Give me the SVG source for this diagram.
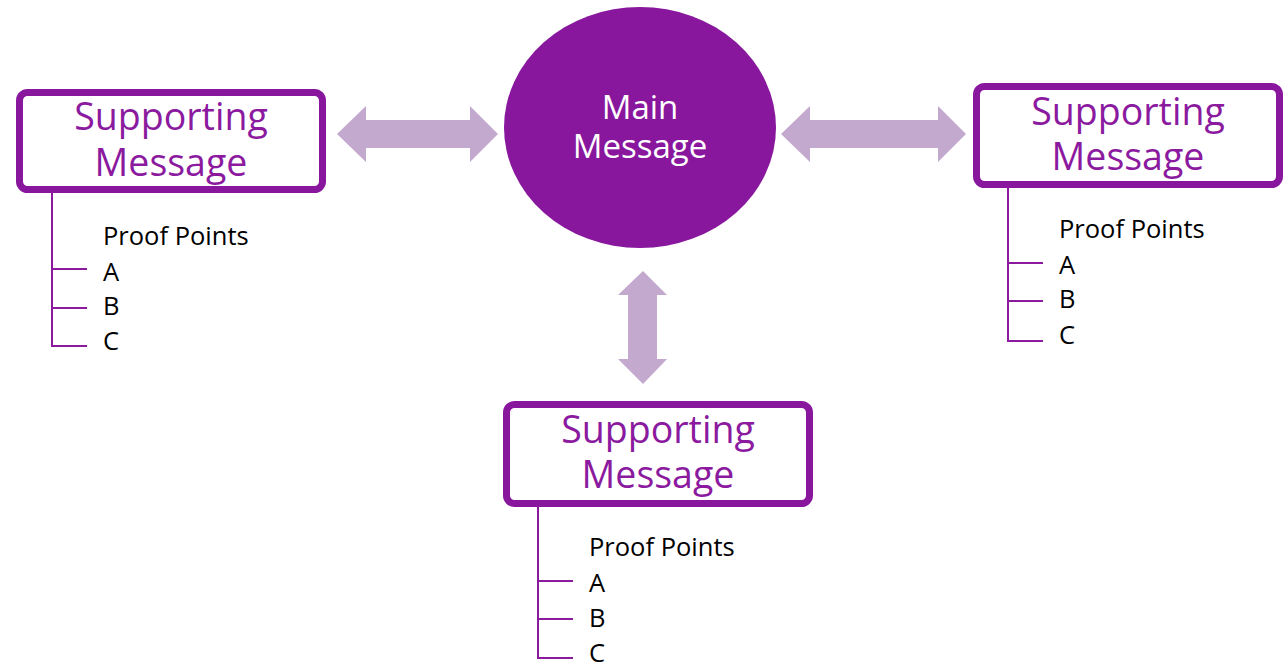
<svg xmlns="http://www.w3.org/2000/svg" width="1286" height="668" viewBox="0 0 1286 668">
  <style>
    .box { fill: #ffffff; stroke: #88179e; stroke-width: 7; }
    .box-label { font-family: "Open Sans", "Noto Sans", sans-serif; font-size: 37.5px; fill: #8b1a9f; text-anchor: middle; }
    .main-label { font-family: "Open Sans", "Noto Sans", sans-serif; font-size: 33px; fill: #ffffff; text-anchor: middle; }
    .tree { fill: none; stroke: #8b1a9f; stroke-width: 2; }
    .point { font-family: "Open Sans", "Noto Sans", sans-serif; font-size: 25.5px; fill: #000000; }
    .link { fill: #c4a9cf; }
  </style>

  <!-- double-headed connectors -->
  <g id="connectors">
    <polygon class="link" points="337,134 366,106 366,120 470,120 470,106 498,134 470,162 470,148 366,148 366,162"/>
    <polygon class="link" points="781,134 810,106 810,120 938,120 938,106 966,134 938,162 938,148 810,148 810,162"/>
    <polygon class="link" points="643,271 667,295 657,295 657,359 667,359 643,384 618,359 628,359 628,295 618,295"/>
  </g>

  <!-- central message -->
  <g id="main-message">
    <ellipse cx="640" cy="127.5" rx="136" ry="120.5" fill="#88179e"/>
    <text class="main-label"><tspan x="640" y="119">Main</tspan><tspan x="640" y="158">Message</tspan></text>
  </g>

  <!-- left supporting message -->
  <g id="support-left">
    <rect class="box" x="19.5" y="92.5" width="303" height="97" rx="8"/>
    <text class="box-label"><tspan x="171" y="130">Supporting</tspan><tspan x="171" y="176">Message</tspan></text>
    <path class="tree" d="M52,193 V347 M52,269 H87 M52,308 H87 M52,346 H87"/>
    <text class="point" x="103" y="245">Proof Points</text>
    <text class="point" x="103" y="281">A</text>
    <text class="point" x="103" y="315">B</text>
    <text class="point" x="103" y="350">C</text>
  </g>

  <!-- right supporting message -->
  <g id="support-right">
    <rect class="box" x="976.5" y="86.5" width="303" height="98" rx="8"/>
    <text class="box-label"><tspan x="1128" y="125">Supporting</tspan><tspan x="1128" y="170">Message</tspan></text>
    <path class="tree" d="M1008,188 V342 M1008,263 H1043 M1008,301 H1043 M1008,341 H1043"/>
    <text class="point" x="1059" y="238">Proof Points</text>
    <text class="point" x="1059" y="274">A</text>
    <text class="point" x="1059" y="308">B</text>
    <text class="point" x="1059" y="344">C</text>
  </g>

  <!-- bottom supporting message -->
  <g id="support-bottom">
    <rect class="box" x="506.5" y="404.5" width="303" height="99" rx="8"/>
    <text class="box-label"><tspan x="658" y="443">Supporting</tspan><tspan x="658" y="488">Message</tspan></text>
    <path class="tree" d="M538,507 V659 M538,581 H573 M538,619 H573 M538,658 H573"/>
    <text class="point" x="589" y="556">Proof Points</text>
    <text class="point" x="589" y="592">A</text>
    <text class="point" x="589" y="627">B</text>
    <text class="point" x="589" y="662">C</text>
  </g>
</svg>
